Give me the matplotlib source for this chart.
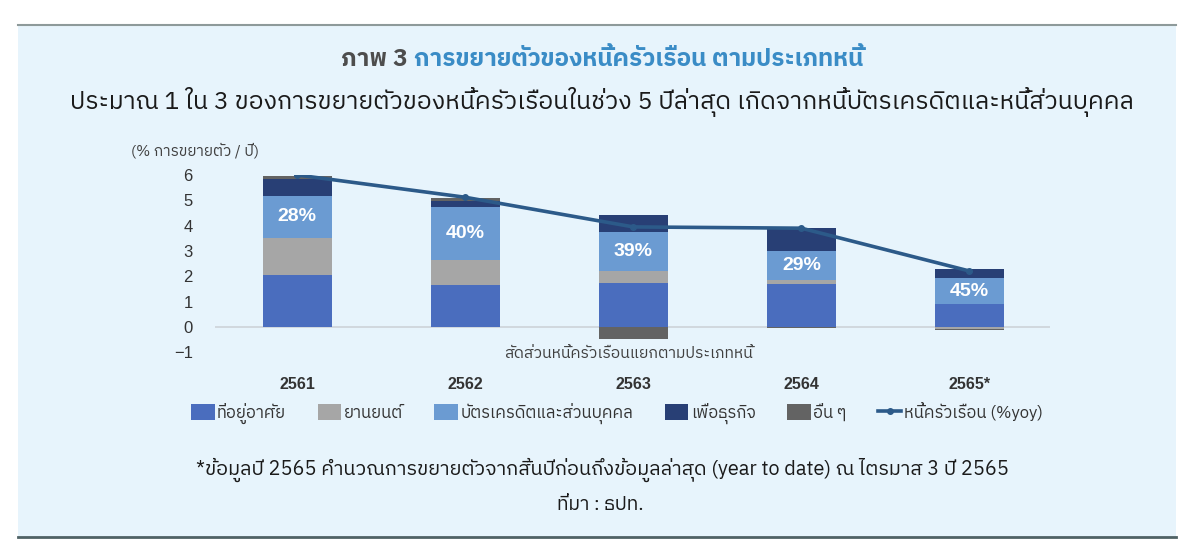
import numpy as np
import matplotlib
matplotlib.use("Agg")
import matplotlib.pyplot as plt
from matplotlib import font_manager
from matplotlib.ft2font import FT2Font
from matplotlib.patches import Patch, Rectangle
from matplotlib.lines import Line2D

# data (% growth per year)
years = ['2561', '2562', '2563', '2564', '2565*']
housing = [2.06, 1.66, 1.75, 1.70, 0.91]
auto = [1.45, 0.99, 0.45, 0.16, -0.08]
credit = [1.68, 2.08, 1.54, 1.12, 1.01]
business = [0.66, 0.26, 0.69, 0.91, 0.37]
others = [0.10, 0.10, -0.48, -0.03, -0.03]
household = [6.00, 5.12, 3.95, 3.90, 2.21]
credit_share = ['28%', '40%', '39%', '29%', '45%']

series_names = ['ที่อยู่อาศัย', 'ยานยนต์', 'บัตรเครดิตและส่วนบุคคล', 'เพื่อธุรกิจ', 'อื่น ๆ']
line_name = 'หนี้ครัวเรือน (%yoy)'
colors = ['#4A6DBE', '#A6A6A6', '#6B9BD2', '#283F75', '#636363']
line_color = '#2C5A89'


def find_thai_font():
    found = []
    for path in font_manager.findSystemFonts():
        try:
            f = FT2Font(path)
            if 0x0E01 in f.get_charmap():
                found.append(path)
        except Exception:
            continue
    if not found:
        return None
    found.sort(key=lambda p: (0 if 'Sans' in p else 1, 0 if 'Regular' in p else 1, p))
    for p in found:
        try:
            font_manager.fontManager.addfont(p)
        except Exception:
            pass
    return font_manager.FontProperties(fname=found[0]).get_name()


thai = find_thai_font()
fams = [thai, 'DejaVu Sans'] if thai else ['DejaVu Sans']
plt.rcParams['font.family'] = fams
num_font = ['Liberation Sans', 'DejaVu Sans']

W, H = 1200, 559
fig = plt.figure(figsize=(W / 100, H / 100), dpi=100)
fig.patch.set_facecolor('white')


def px(x, y):
    return x / W, 1 - y / H


# light blue panel with top/bottom rules (kept behind the axes)
fig.patches.append(Rectangle(px(18, 537), (1176 - 18) / W, (537 - 25) / H,
                             transform=fig.transFigure, facecolor='#E7F4FC',
                             edgecolor='none', zorder=-5))
fig.add_artist(Line2D([18 / W, 1176 / W], [1 - 25 / H] * 2, color='#8E9A9A', lw=1.5))
fig.add_artist(Line2D([18 / W, 1176 / W], [1 - 537 / H] * 2, color='#4F6265', lw=2.0))

ax = fig.add_axes([215 / W, 1 - 352.3 / H, 835 / W, (352.3 - 175) / H])
ax.set_facecolor('none')

x = np.arange(len(years))
pos_bottom = np.zeros(len(years))
neg_bottom = np.zeros(len(years))
for vals, c in zip([housing, auto, credit, business, others], colors):
    vals = np.array(vals)
    bottoms = np.where(vals >= 0, pos_bottom, neg_bottom)
    ax.bar(x, vals, width=0.41, bottom=bottoms, color=c, zorder=2)
    if c == colors[2]:
        for xi, b, v, s in zip(x, bottoms, vals, credit_share):
            ax.text(xi, b + v / 2, s, ha='center', va='center', color='white',
                    fontsize=14, fontweight='bold', family=num_font, zorder=4)
    pos_bottom += np.where(vals >= 0, vals, 0)
    neg_bottom += np.where(vals < 0, vals, 0)

ax.plot(x, household, color=line_color, lw=2.6, marker='o', ms=4, zorder=3)
ax.axhline(0, color='#CDD3D8', lw=1.2, zorder=1)

ax.set_xlim(-0.49, 4.48)
ax.set_ylim(-1, 6)
ax.set_yticks(range(-1, 7))
ax.set_yticklabels(['−1'] + [str(i) for i in range(0, 7)], family=num_font)
ax.set_xticks(x)
ax.set_xticklabels(years, fontweight='bold', family=num_font)
ax.tick_params(axis='y', length=0, pad=16, labelsize=12, labelcolor='#333333')
ax.tick_params(axis='x', length=0, pad=18, labelsize=11.5, labelcolor='#333333')
for s in ax.spines.values():
    s.set_visible(False)

fig.text(*px(195, 151), '(% การขยายตัว / ปี)', ha='center', va='center',
         fontsize=11, color='#404040')
fig.text(*px(628, 353), 'สัดส่วนหนี้ครัวเรือนแยกตามประเภทหนี้', ha='center', va='center',
         fontsize=11.3, color='#404040')

# title in two colours
t1 = fig.text(*px(335, 60), 'ภาพ 3 ', ha='left', va='center', fontsize=17.5,
              fontweight='bold', color='#4D4D4D')
t2 = fig.text(*px(400, 60), 'การขยายตัวของหนี้ครัวเรือน ตามประเภทหนี้', ha='left',
              va='center', fontsize=17.5, fontweight='bold', color='#3A8CC6')
fig.canvas.draw()
r = fig.canvas.get_renderer()
w1 = t1.get_window_extent(r).width
w2 = t2.get_window_extent(r).width
start = 602 - (w1 + w2) / 2
t1.set_x(start / W)
t2.set_x((start + w1) / W)

fig.text(*px(602, 102), 'ประมาณ 1 ใน 3 ของการขยายตัวของหนี้ครัวเรือนในช่วง 5 ปีล่าสุด '
         'เกิดจากหนี้บัตรเครดิตและหนี้ส่วนบุคคล', ha='center', va='center',
         fontsize=17.8, color='#1A1A1A')

handles = [Patch(facecolor=c, edgecolor='none') for c in colors]
handles.append(Line2D([0], [0], color=line_color, lw=2.6, marker='o', ms=4))
fig.legend(handles, series_names + [line_name], loc='center', bbox_to_anchor=px(617, 413),
           ncol=6, frameon=False, fontsize=12, labelcolor='#333333',
           handlelength=1.4, handleheight=1.1, handletextpad=0.15, columnspacing=1.9)

fig.text(*px(602, 470), '*ข้อมูลปี 2565 คำนวณการขยายตัวจากสิ้นปีก่อนถึงข้อมูลล่าสุด '
         '(year to date) ณ ไตรมาส 3 ปี 2565', ha='center', va='center',
         fontsize=14.3, color='#1A1A1A')
fig.text(*px(600, 505), 'ที่มา : ธปท.', ha='center', va='center', fontsize=14, color='#1A1A1A')

fig.savefig('out.png', dpi=100, facecolor='white')
